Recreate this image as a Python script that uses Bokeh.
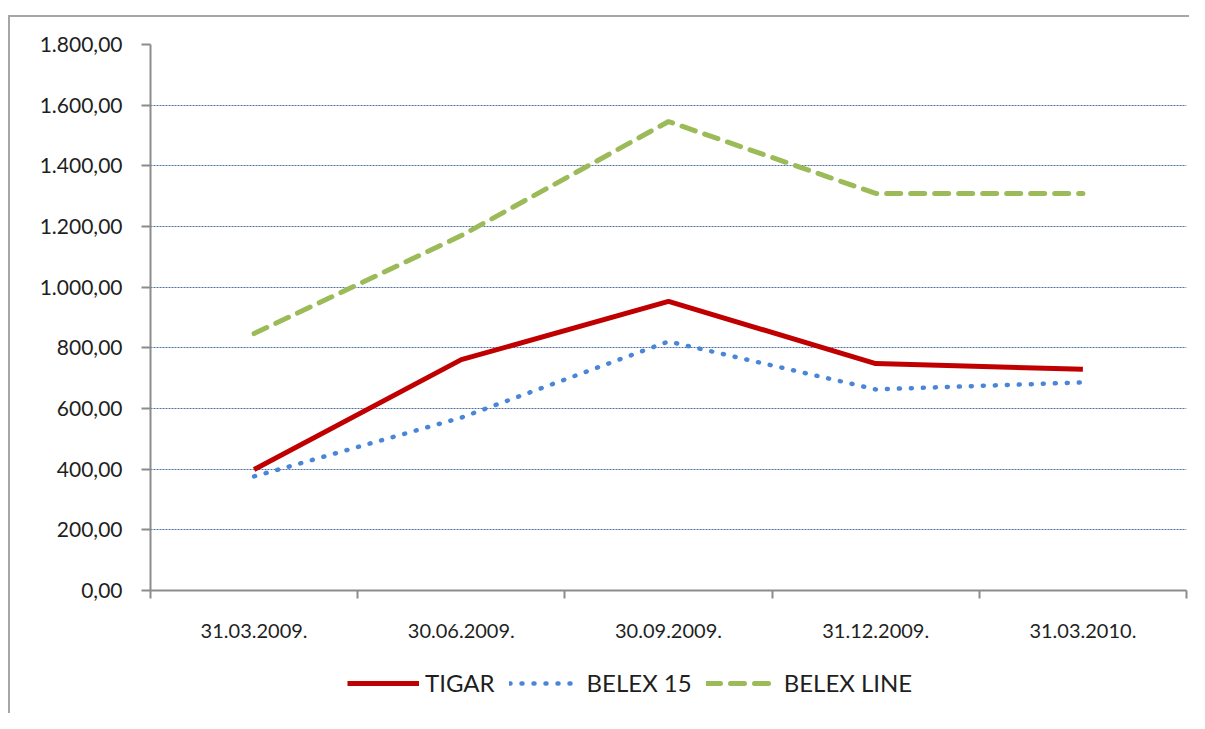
from bokeh.plotting import figure
from bokeh.layouts import column
from bokeh.models import FixedTicker, Legend, LegendItem, Range1d
from bokeh.embed import file_html
from bokeh.resources import INLINE

categories = ["31.03.2009.", "30.06.2009.", "30.09.2009.", "31.12.2009.", "31.03.2010."]
tigar = [399, 761, 953, 748, 729]
belex15 = [376, 570, 821, 663, 686]
belexline = [847, 1170, 1546, 1309, 1309]
series_names = ["TIGAR", "BELEX 15", "BELEX LINE"]
y_ticks = [0, 200, 400, 600, 800, 1000, 1200, 1400, 1600, 1800]
y_tick_labels = ["0,00", "200,00", "400,00", "600,00", "800,00", "1.000,00",
                 "1.200,00", "1.400,00", "1.600,00", "1.800,00"]

FONT = "Lato"
TXT = "#1f1f1f"
AXIS = "#8c8c8c"
STYLES = [
    dict(line_color="#c00000", line_width=5),
    dict(line_color="#4a86d8", line_width=4.5, line_dash="1 11", line_cap="round"),
    dict(line_color="#9bbb59", line_width=5, line_dash="14 10", line_cap="round"),
]
series = [tigar, belex15, belexline]

x = [i + 0.5 for i in range(len(categories))]
bounds = list(range(len(categories) + 1))

W = 1189
H_MAIN = 642
H_LEG = 71

p = figure(width=W, height=H_MAIN, output_backend="svg", toolbar_location=None,
           x_range=Range1d(0, len(categories)), y_range=Range1d(0, 1800),
           min_border_left=150, min_border_right=3, min_border_top=44, min_border_bottom=52)
p.outline_line_color = None
p.background_fill_color = "white"
p.border_fill_alpha = 0

# x axis: labels at category centres, tick marks at category boundaries
p.xaxis.ticker = FixedTicker(ticks=x, minor_ticks=bounds)
p.xaxis.major_label_overrides = {float(xi): c for xi, c in zip(x, categories)}
p.xaxis.major_tick_line_color = None
p.xaxis.major_tick_out = 0
p.xaxis.major_tick_in = 0
p.xaxis.minor_tick_line_color = AXIS
p.xaxis.minor_tick_line_width = 2
p.xaxis.minor_tick_out = 8
p.xaxis.minor_tick_in = 0
p.xaxis.axis_line_color = AXIS
p.xaxis.axis_line_width = 2
p.xaxis.major_label_standoff = 25
p.xaxis.major_label_text_font = FONT
p.xaxis.major_label_text_font_size = "20px"
p.xaxis.major_label_text_color = TXT

p.yaxis.ticker = FixedTicker(ticks=y_ticks, minor_ticks=[])
p.yaxis.major_label_overrides = {t: l for t, l in zip(y_ticks, y_tick_labels)}
p.yaxis.major_tick_line_color = AXIS
p.yaxis.major_tick_line_width = 2
p.yaxis.major_tick_out = 9
p.yaxis.major_tick_in = 0
p.yaxis.axis_line_color = AXIS
p.yaxis.axis_line_width = 2
p.yaxis.major_label_standoff = 19
p.yaxis.major_label_text_font = FONT
p.yaxis.major_label_text_font_size = "21px"
p.yaxis.major_label_text_color = TXT

p.xgrid.grid_line_color = None
p.ygrid.grid_line_color = "#4d6fa6"
p.ygrid.grid_line_dash = "2 1"
p.ygrid.grid_line_width = 1

for vals, st in zip(series, STYLES):
    p.line(x, vals, **st)

# legend strip below the chart (series drawn off-range so only the legend shows)
p2 = figure(width=W, height=H_LEG, output_backend="svg", toolbar_location=None,
            x_range=Range1d(0, len(categories)), y_range=Range1d(-2, -1),
            min_border=0, x_axis_type=None, y_axis_type=None)
p2.outline_line_color = None
p2.grid.grid_line_color = None
p2.background_fill_alpha = 0
p2.border_fill_alpha = 0
legend_renderers = [p2.line(x, vals, **st) for vals, st in zip(series, STYLES)]

legend = Legend(items=[LegendItem(label=n, renderers=[r]) for n, r in zip(series_names, legend_renderers)],
                orientation="horizontal", location=(197, 16),
                label_text_font=FONT, label_text_font_size="24px", label_text_color=TXT,
                glyph_width=72, glyph_height=20, label_standoff=6, spacing=14,
                border_line_color=None, background_fill_alpha=0, padding=10, margin=0)
p2.add_layout(legend)

layout = column(p, p2, spacing=0)
layout.styles = {
    "background-color": "white",
    "background-image": "linear-gradient(#a6a6a6, #a6a6a6), linear-gradient(#a6a6a6, #a6a6a6)",
    "background-size": "2px 100%, 100% 2px",
    "background-position": "8px 15px, 8px 15px",
    "background-repeat": "no-repeat",
}

open("out.html", "w").write(file_html(layout, INLINE))
